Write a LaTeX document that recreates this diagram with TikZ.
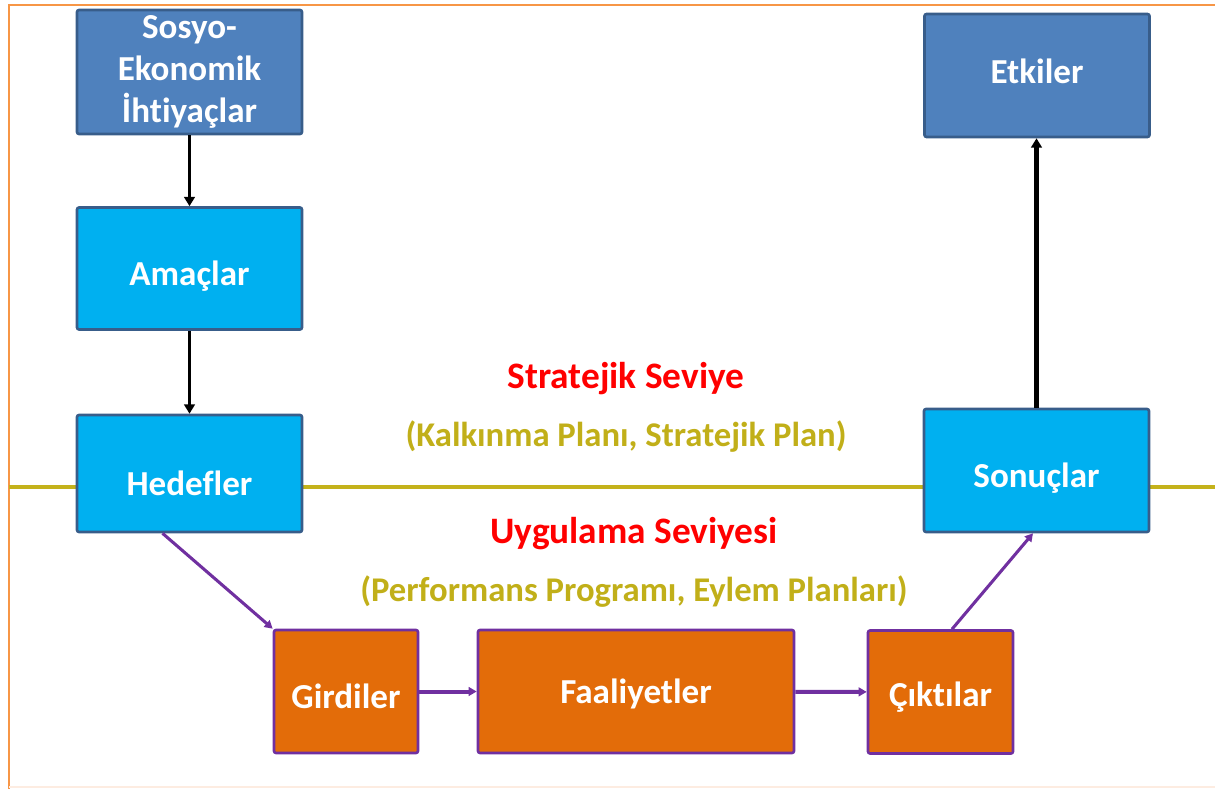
\documentclass[tikz,border=0pt]{standalone}
\usepackage{fontspec}
\setmainfont{Carlito}[Ligatures={NoCommon}]
\usetikzlibrary{arrows.meta,calc}
\definecolor{frameor}{RGB}{247,150,70}
\definecolor{framelt}{RGB}{253,236,225}
\definecolor{goldln}{RGB}{196,178,27}
\definecolor{goldtx}{RGB}{193,175,25}
\definecolor{darkblue}{RGB}{79,129,189}
\definecolor{darkbord}{RGB}{56,93,138}
\definecolor{cyanfill}{RGB}{0,176,240}
\definecolor{orfill}{RGB}{227,108,9}
\definecolor{purp}{RGB}{112,48,160}
\newcommand\shiftdn[2]{\raisebox{-#1}[\height][\depth]{#2}}
\tikzset{
  box/.style={draw=darkbord, line width=2.6pt*0.75, rounded corners=1.5pt, text=white,
     font=\fontsize{26.3}{31.5}\selectfont\bfseries, align=center, inner sep=0pt},
  topbox/.style={box, fill=darkblue, minimum width=225*0.75pt, minimum height=123*0.75pt},
  cyanbox/.style={box, fill=cyanfill, minimum width=225*0.75pt, minimum height=122*0.75pt},
  orbox/.style={box, fill=orfill, draw=purp, minimum height=123*0.75pt},
  blackarrow/.style={-{Triangle[length=7pt,width=8pt]}, line width=2.8pt, black},
  purparrow/.style={-{Triangle[length=6pt,width=6.5pt]}, line width=2.3pt, purp},
  redlbl/.style={text=red, font=\fontsize{28}{32}\selectfont\bfseries},
  goldlbl/.style={text=goldtx, font=\fontsize{26}{30}\selectfont\bfseries}
}
\begin{document}
\begin{tikzpicture}[x=0.75pt,y=-0.75pt]
\useasboundingbox (0,0) rectangle (1215,789);
% frame
\draw[frameor, line width=1.6pt] (1215,5) -- (9,5) -- (9,789);
\draw[framelt, line width=1.5pt] (9,787) -- (1215,787);
% gold separator
\draw[goldln, line width=2.3pt] (9,487) -- (1215,487);
% boxes
\node[topbox, minimum height=124*0.75pt] (sos) at (189.5,72) {Sosyo-\\Ekonomik\\İhtiyaçlar};
\node[cyanbox] (ama) at (189.5,268.5) {\shiftdn{5.5pt}{Amaçlar}};
\node[cyanbox, minimum height=117*0.75pt] (hed) at (189.5,473.5) {\shiftdn{7pt}{Hedefler}};
\node[topbox] (etk) at (1037,75.5) {\shiftdn{-3pt}{Etkiler}};
\node[cyanbox, minimum height=123*0.75pt] (son) at (1036.5,470.5) {\shiftdn{6pt}{Sonuçlar}};
\node[orbox, minimum width=144*0.75pt] (gir) at (346,691.5) {\shiftdn{3.5pt}{Girdiler}};
\node[orbox, minimum width=316*0.75pt] (faa) at (636,691.5) {\shiftdn{2pt}{Faaliyetler}};
\node[orbox, minimum width=145*0.75pt] (cik) at (940.5,692) {\shiftdn{3.5pt}{Çıktılar}};
% labels
\node[redlbl] (str) at (626,379) {Stratejik Seviye};
\node[goldlbl] (kal) at (626,437) {(Kalkınma Planı, Stratejik Plan)};
\node[redlbl] (uyg) at (634,534) {Uygulama Seviyesi};
\node[goldlbl] (per) at (634,592) {(Performans Programı, Eylem Planları)};
% connectors
\draw[blackarrow] (sos) -- (ama);
\draw[blackarrow] (ama) -- (hed);
\draw[blackarrow, line width=3.1pt] (son.north) -- (son.north |- etk.south);
\draw[purparrow] ($(hed.south)+(-27,0)$) -- (gir.north west);
\draw[purparrow, line width=3pt] (gir) -- (faa);
\draw[purparrow, line width=3pt] (faa) -- (cik);
\draw[purparrow] ($(cik.north)+(11.5,0)$) -- ($(son.south)+(-3.5,0)$);
\end{tikzpicture}
\end{document}
